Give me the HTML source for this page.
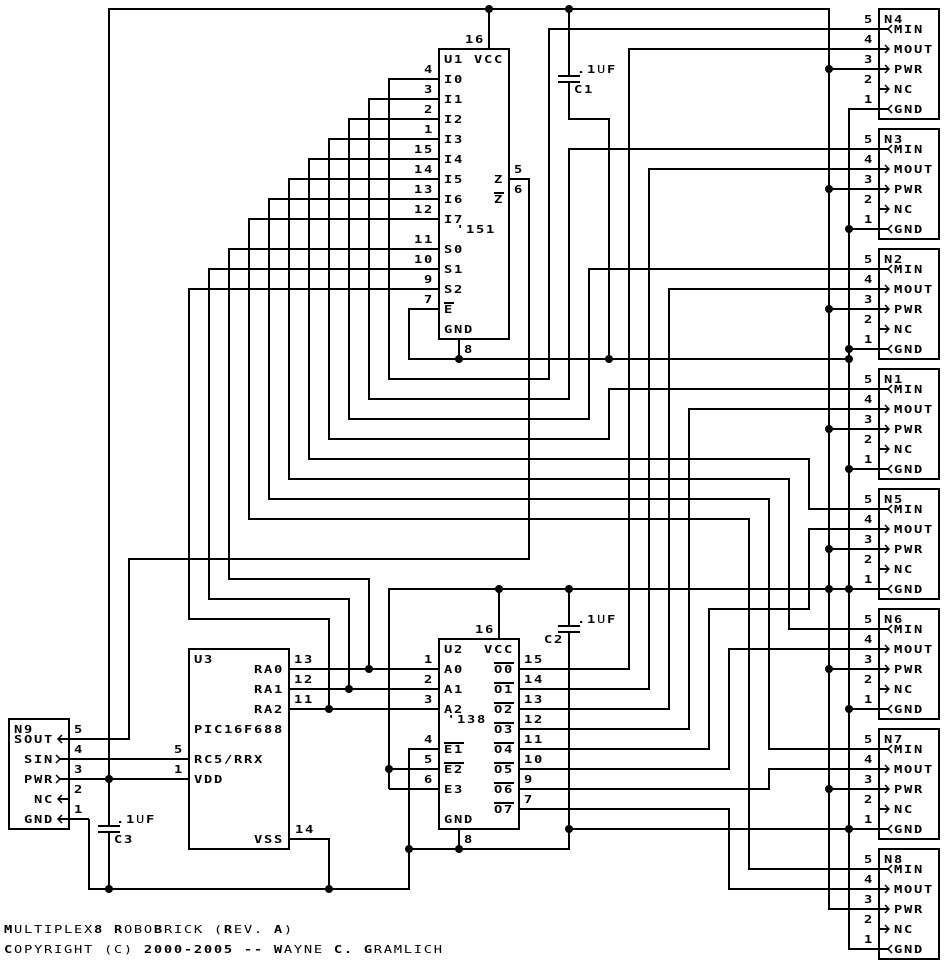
<!DOCTYPE html>
<html><head><meta charset="utf-8"><style>
html,body{margin:0;padding:0;background:#fff}
svg{display:block}
text{font-family:"DejaVu Sans Mono","Liberation Mono",monospace;font-size:11px;font-weight:bold;letter-spacing:1.38px;fill:#000;white-space:pre}
.l{font-weight:normal}
</style></head><body>
<svg width="945" height="965" viewBox="0 0 945 965" xmlns="http://www.w3.org/2000/svg">
<rect width="945" height="965" fill="#fff"/>
<g fill="none" stroke="#000" stroke-width="2" shape-rendering="crispEdges">
<!-- rails -->
<path d="M109 826V9H829V909H888"/>
<path d="M109 832V889"/>
<path d="M89 819V889H409V749H439"/>
<path d="M888 109H849V949H888"/>
<path d="M489 9V49"/>
<!-- C1 -->
<path d="M569 9V76M558 76H580M558 82H580M569 82V119H609V359"/>
<!-- U1 -->
<rect x="439" y="49" width="70" height="290"/>
<path d="M439 309H409V359H849M459 339V359"/>
<path d="M439 79H389V379H549V29H888"/>
<path d="M439 99H369V399H569V149H888"/>
<path d="M439 119H349V419H589V269H888"/>
<path d="M439 139H329V439H609V389H888"/>
<path d="M439 159H309V459H809V509H888"/>
<path d="M439 179H289V479H789V629H888"/>
<path d="M439 199H269V499H769V749H888"/>
<path d="M439 219H249V519H749V869H888"/>
<path d="M439 249H229V579H369V669"/>
<path d="M439 269H209V599H349V689"/>
<path d="M439 289H189V619H329V709"/>
<path d="M509 179H529V559H129V739H59"/>
<!-- U2 -->
<rect x="439" y="639" width="80" height="190"/>
<path d="M389 789V589H849M499 589V639"/>
<path d="M389 769H439M389 789H439"/>
<path d="M289 669H439M289 689H439M289 709H439"/>
<path d="M459 829V849M409 849H569V632M558 632H580M558 626H580M569 626V589"/>
<path d="M569 829H849"/>
<path d="M519 669H629V49H888"/>
<path d="M519 689H649V169H888"/>
<path d="M519 709H669V289H888"/>
<path d="M519 729H689V409H888"/>
<path d="M519 749H709V609H809V529H888"/>
<path d="M519 769H729V649H888"/>
<path d="M519 789H769V769H888"/>
<path d="M519 809H729V889H888"/>
<!-- U3 -->
<rect x="189" y="649" width="100" height="200"/>
<path d="M289 839H329V889"/>
<path d="M59 759H189M59 779H189"/>
<!-- C3 plates -->
<path d="M98 826H120M98 832H120"/>
<!-- N9 -->
<rect x="9" y="719" width="60" height="110"/>
<path d="M59 799H69M59 819H89"/>
<!-- N boxes -->
<rect x="879" y="9" width="60" height="110"/>
<rect x="879" y="129" width="60" height="110"/>
<rect x="879" y="249" width="60" height="110"/>
<rect x="879" y="369" width="60" height="110"/>
<rect x="879" y="489" width="60" height="110"/>
<rect x="879" y="609" width="60" height="110"/>
<rect x="879" y="729" width="60" height="110"/>
<rect x="879" y="849" width="60" height="110"/>
<!-- power stubs -->
<path d="M829 69H888M829 189H888M829 309H888M829 429H888M829 549H888M829 669H888M829 789H888"/>
<path d="M849 229H888M849 349H888M849 469H888M849 589H888M849 709H888M849 829H888"/>
<!-- NC stubs -->
<path d="M879 89H888M879 209H888M879 329H888M879 449H888M879 569H888M879 689H888M879 809H888M879 929H888"/>
<!-- overlines -->
<path d="M444 303H454M494 193H504M494 663H514M494 683H514M494 703H514M494 723H514M494 743H514M494 763H514M494 783H514M494 803H514M444 743H464M444 763H464"/>
</g>
<!-- dots -->
<g fill="#000">
<circle cx="489" cy="9" r="4"/><circle cx="569" cy="9" r="4"/>
<circle cx="829" cy="69" r="4"/><circle cx="829" cy="189" r="4"/><circle cx="829" cy="309" r="4"/><circle cx="829" cy="429" r="4"/><circle cx="829" cy="549" r="4"/><circle cx="829" cy="589" r="4"/><circle cx="829" cy="669" r="4"/><circle cx="829" cy="789" r="4"/>
<circle cx="849" cy="229" r="4"/><circle cx="849" cy="349" r="4"/><circle cx="849" cy="359" r="4"/><circle cx="849" cy="469" r="4"/><circle cx="849" cy="589" r="4"/><circle cx="849" cy="709" r="4"/><circle cx="849" cy="829" r="4"/>
<circle cx="459" cy="359" r="4"/><circle cx="609" cy="359" r="4"/>
<circle cx="369" cy="669" r="4"/><circle cx="349" cy="689" r="4"/><circle cx="329" cy="709" r="4"/>
<circle cx="499" cy="589" r="4"/><circle cx="569" cy="589" r="4"/>
<circle cx="389" cy="769" r="4"/><circle cx="409" cy="849" r="4"/><circle cx="459" cy="849" r="4"/><circle cx="569" cy="829" r="4"/>
<circle cx="109" cy="779" r="4"/><circle cx="109" cy="889" r="4"/><circle cx="329" cy="889" r="4"/>
</g>
<!-- arrowheads -->
<g fill="none" stroke="#000" stroke-width="1.5">
<path d="M62 735L58 739L62 743M62 795L58 799L62 803M62 815L58 819L62 823"/>
<path d="M56 755L60 759L56 763M56 775L60 779L56 783"/>
<path d="M892 25L888 29L892 33M892 105L888 109L892 113M885 45L889 49L885 53M885 65L889 69L885 73M885 85L889 89L885 93"/>
<path transform="translate(0 120)" d="M892 25L888 29L892 33M892 105L888 109L892 113M885 45L889 49L885 53M885 65L889 69L885 73M885 85L889 89L885 93"/>
<path transform="translate(0 240)" d="M892 25L888 29L892 33M892 105L888 109L892 113M885 45L889 49L885 53M885 65L889 69L885 73M885 85L889 89L885 93"/>
<path transform="translate(0 360)" d="M892 25L888 29L892 33M892 105L888 109L892 113M885 45L889 49L885 53M885 65L889 69L885 73M885 85L889 89L885 93"/>
<path transform="translate(0 480)" d="M892 25L888 29L892 33M892 105L888 109L892 113M885 45L889 49L885 53M885 65L889 69L885 73M885 85L889 89L885 93"/>
<path transform="translate(0 600)" d="M892 25L888 29L892 33M892 105L888 109L892 113M885 45L889 49L885 53M885 65L889 69L885 73M885 85L889 89L885 93"/>
<path transform="translate(0 720)" d="M892 25L888 29L892 33M892 105L888 109L892 113M885 45L889 49L885 53M885 65L889 69L885 73M885 85L889 89L885 93"/>
<path transform="translate(0 840)" d="M892 25L888 29L892 33M892 105L888 109L892 113M885 45L889 49L885 53M885 65L889 69L885 73M885 85L889 89L885 93"/>
</g>
<!-- text: x values are multiplied by .8 because of the 1.25 horizontal stretch -->
<g transform="translate(-1 0) scale(1.25 1)">
<!-- U1 -->
<text x="356" y="63">U1</text><text x="380" y="63">VCC</text>
<text x="372.8" y="43">16</text>
<text x="356" y="83">I0</text><text x="356" y="103">I1</text><text x="356" y="123">I2</text><text x="356" y="143">I3</text><text x="356" y="163">I4</text><text x="356" y="183">I5</text><text x="356" y="203">I6</text><text x="356" y="223">I7</text>
<text x="356" y="253">S0</text><text x="356" y="273">S1</text><text x="356" y="293">S2</text><text x="356" y="313">E</text><text x="356" y="333">GND</text>
<text x="365.6" y="233">'151</text>
<text x="396" y="183">Z</text><text x="396" y="203">Z</text>
<text x="340" y="73">4</text><text x="340" y="93">3</text><text x="340" y="113">2</text><text x="340" y="133">1</text>
<text x="332" y="153">15</text><text x="332" y="173">14</text><text x="332" y="193">13</text><text x="332" y="213">12</text><text x="332" y="243">11</text><text x="332" y="263">10</text>
<text x="340" y="283">9</text><text x="340" y="303">7</text>
<text x="412" y="173">5</text><text x="412" y="193">6</text>
<text x="372" y="353">8</text>
<!-- C1 C2 C3 -->
<text x="462.4" y="73">.1<tspan class="l">U</tspan>F</text><text x="460" y="93">C1</text>
<text x="462.4" y="623">.1<tspan class="l">U</tspan>F</text><text x="436" y="643">C2</text>
<text x="93.6" y="823">.1<tspan class="l">U</tspan>F</text><text x="92" y="843">C3</text>
<!-- U2 -->
<text x="356" y="653">U2</text><text x="388" y="653">VCC</text>
<text x="380.8" y="633">16</text>
<text x="356" y="673">A0</text><text x="356" y="693">A1</text><text x="356" y="713">A2</text>
<text x="358.4" y="723">'138</text>
<text x="356" y="753">E1</text><text x="356" y="773">E2</text><text x="356" y="793">E3</text><text x="356" y="823">GND</text>
<text x="396" y="673">O0</text><text x="396" y="693">O1</text><text x="396" y="713">O2</text><text x="396" y="733">O3</text><text x="396" y="753">O4</text><text x="396" y="773">O5</text><text x="396" y="793">O6</text><text x="396" y="813">O7</text>
<text x="340" y="663">1</text><text x="340" y="683">2</text><text x="340" y="703">3</text><text x="340" y="743">4</text><text x="340" y="763">5</text><text x="340" y="783">6</text>
<text x="420" y="663">15</text><text x="420" y="683">14</text><text x="420" y="703">13</text><text x="420" y="723">12</text><text x="420" y="743">11</text><text x="420" y="763">10</text><text x="420" y="783">9</text><text x="420" y="803">7</text>
<text x="372" y="843">8</text>
<!-- U3 -->
<text x="156" y="663">U3</text>
<text x="204" y="673">RA0</text><text x="204" y="693">RA1</text><text x="204" y="713">RA2</text>
<text x="156" y="733">PIC16F688</text>
<text x="156" y="763">RC5/RRX</text><text x="156" y="783">VDD</text><text x="204" y="843">VSS</text>
<text x="236" y="663">13</text><text x="236" y="683">12</text><text x="236" y="703">11</text><text x="236.8" y="833">14</text>
<text x="140" y="753">5</text><text x="140" y="773">1</text>
<!-- N9 -->
<text x="12" y="733">N9</text><text x="12" y="743">SOUT</text><text x="20" y="763">SIN</text><text x="20" y="783">PWR</text><text x="28" y="803">NC</text><text x="20" y="823">GND</text>
<text x="60" y="733">5</text><text x="60" y="753">4</text><text x="60" y="773">3</text><text x="60" y="793">2</text><text x="60" y="813">1</text>
<!-- N4 -->
<g><text x="708" y="23">N4</text><text x="716" y="33">MIN</text><text x="716" y="53">MOUT</text><text x="716" y="73">PWR</text><text x="716" y="93">NC</text><text x="716" y="113">GND</text><text x="692" y="23">5</text><text x="692" y="43">4</text><text x="692" y="63">3</text><text x="692" y="83">2</text><text x="692" y="103">1</text></g>
<g transform="translate(0 120)"><text x="708" y="23">N3</text><text x="716" y="33">MIN</text><text x="716" y="53">MOUT</text><text x="716" y="73">PWR</text><text x="716" y="93">NC</text><text x="716" y="113">GND</text><text x="692" y="23">5</text><text x="692" y="43">4</text><text x="692" y="63">3</text><text x="692" y="83">2</text><text x="692" y="103">1</text></g>
<g transform="translate(0 240)"><text x="708" y="23">N2</text><text x="716" y="33">MIN</text><text x="716" y="53">MOUT</text><text x="716" y="73">PWR</text><text x="716" y="93">NC</text><text x="716" y="113">GND</text><text x="692" y="23">5</text><text x="692" y="43">4</text><text x="692" y="63">3</text><text x="692" y="83">2</text><text x="692" y="103">1</text></g>
<g transform="translate(0 360)"><text x="708" y="23">N1</text><text x="716" y="33">MIN</text><text x="716" y="53">MOUT</text><text x="716" y="73">PWR</text><text x="716" y="93">NC</text><text x="716" y="113">GND</text><text x="692" y="23">5</text><text x="692" y="43">4</text><text x="692" y="63">3</text><text x="692" y="83">2</text><text x="692" y="103">1</text></g>
<g transform="translate(0 480)"><text x="708" y="23">N5</text><text x="716" y="33">MIN</text><text x="716" y="53">MOUT</text><text x="716" y="73">PWR</text><text x="716" y="93">NC</text><text x="716" y="113">GND</text><text x="692" y="23">5</text><text x="692" y="43">4</text><text x="692" y="63">3</text><text x="692" y="83">2</text><text x="692" y="103">1</text></g>
<g transform="translate(0 600)"><text x="708" y="23">N6</text><text x="716" y="33">MIN</text><text x="716" y="53">MOUT</text><text x="716" y="73">PWR</text><text x="716" y="93">NC</text><text x="716" y="113">GND</text><text x="692" y="23">5</text><text x="692" y="43">4</text><text x="692" y="63">3</text><text x="692" y="83">2</text><text x="692" y="103">1</text></g>
<g transform="translate(0 720)"><text x="708" y="23">N7</text><text x="716" y="33">MIN</text><text x="716" y="53">MOUT</text><text x="716" y="73">PWR</text><text x="716" y="93">NC</text><text x="716" y="113">GND</text><text x="692" y="23">5</text><text x="692" y="43">4</text><text x="692" y="63">3</text><text x="692" y="83">2</text><text x="692" y="103">1</text></g>
<g transform="translate(0 840)"><text x="708" y="23">N8</text><text x="716" y="33">MIN</text><text x="716" y="53">MOUT</text><text x="716" y="73">PWR</text><text x="716" y="93">NC</text><text x="716" y="113">GND</text><text x="692" y="23">5</text><text x="692" y="43">4</text><text x="692" y="63">3</text><text x="692" y="83">2</text><text x="692" y="103">1</text></g>
<!-- title -->
<text x="4" y="933">M<tspan class="l">ULTIPLEX</tspan>8 R<tspan class="l">OBO</tspan>B<tspan class="l">RICK (</tspan>R<tspan class="l">EV. </tspan>A<tspan class="l">)</tspan></text>
<text x="4" y="953">C<tspan class="l">OPYRIGHT (C) </tspan>2000-2005 -- W<tspan class="l">AYNE </tspan>C. G<tspan class="l">RAMLICH</tspan></text>
</g>
</svg>
</body></html>
